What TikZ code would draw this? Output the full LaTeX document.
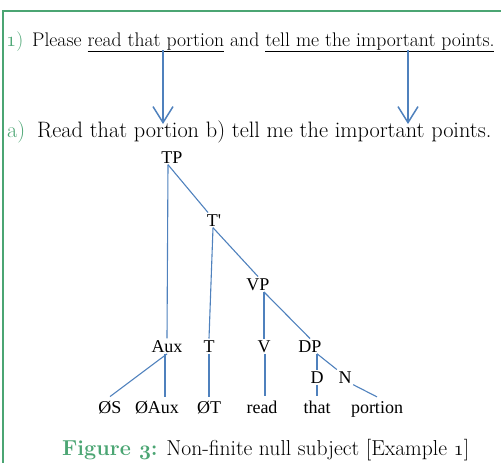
\documentclass[tikz,border=0pt]{standalone}
\usepackage{fontspec}
\newfontfamily\treefont{Liberation Serif}[Ligatures=TeXOff]
\usetikzlibrary{arrows.meta}
\definecolor{frameg}{RGB}{75,165,115}
\definecolor{lblue}{RGB}{79,129,189}
\newcommand\osm[1]{{\usefont{OML}{cmm}{m}{it}#1}}
\newcommand\osb[1]{{\usefont{OML}{cmm}{b}{it}#1}}
\begin{document}
\begin{tikzpicture}[x=1pt,y=-1pt,
  lbl/.style={font=\treefont\fontsize{18}{20}\selectfont, inner sep=1.5pt, anchor=base},
  leaf/.style={lbl, inner ysep=4pt},
  edge/.style={draw=lblue, line width=1.1pt},
  bigarrow/.style={draw=lblue, line width=1.5pt, -{Straight Barb[length=16pt,width=20pt]}},
  txt/.style={anchor=base west, inner sep=0pt}]
\useasboundingbox (0,0) rectangle (501,463);
\draw[frameg, line width=2pt] (501,11) -- (3,11) -- (3,463);
% sentence 1
\node[txt, text=frameg, font=\fontsize{19.7}{22}\selectfont] (n1) at (6,46) {\osm{1})};
\node[txt, font=\fontsize{19.7}{22}\selectfont] (s1) at (32,46) {Please \underline{read that portion} and \underline{tell me the important points.}};
% arrows
\coordinate (a1s) at (163,50);
\coordinate (a1e) at (163,124);
\coordinate (a2s) at (408,50);
\coordinate (a2e) at (408,124);
\draw[bigarrow] (a1s) -- (a1e);
\draw[bigarrow] (a2s) -- (a2e);
% sentence a
\node[txt, text=frameg, font=\fontsize{22.3}{24}\selectfont] (na) at (7,137) {a)};
\node[txt, font=\fontsize{22.3}{24}\selectfont] (sa) at (37,137) {Read that portion b) tell me the important points.};
% tree
\node[lbl] (TP) at (172,163) {TP};
\node[lbl] (Tb) at (214,226) {T'};
\node[lbl] (VP) at (258,290) {VP};
\node[lbl] (Aux) at (167,352) {Aux};
\node[lbl] (T) at (209,352) {T};
\node[lbl] (V) at (264,352) {V};
\node[lbl] (DP) at (310,352) {DP};
\node[lbl] (D) at (317,383) {D};
\node[lbl] (N) at (345,383) {N};
\node[leaf] (OS) at (110,413) {ØS};
\node[leaf] (OAux) at (157,413) {ØAux};
\node[leaf] (OT) at (209,413) {ØT};
\node[leaf] (read) at (262,413) {read};
\node[leaf] (that) at (317,413) {that};
\node[leaf] (portion) at (377,413) {portion};
\draw[edge] ([xshift=-4pt]TP.south) -- (Aux.north);
\draw[edge] ([xshift=-4pt]TP.south) -- ([xshift=-6pt]Tb.north);
\draw[edge] ([xshift=-1pt]Tb.south) -- (T.north);
\draw[edge] ([xshift=-1pt]Tb.south) -- (VP.north);
\draw[edge] (VP.south -| V.north) -- (V.north);
\draw[edge] (VP.south -| V.north) -- (DP.north);
\draw[edge] (Aux.south) -- (OS.north);
\draw[edge] ([xshift=-2pt]Aux.south) -- ([xshift=-2pt]Aux.south |- OAux.north);
\draw[edge] (T.south) -- (OT.north);
\draw[edge] ([xshift=1pt]V.south) -- ([xshift=1pt]V.south |- read.north);
\draw[edge] (D.north |- DP.south) -- (D.north);
\draw[edge] (D.north |- DP.south) -- (N.north west);
\draw[edge] (D.south) -- (that.north);
\draw[edge] (N.south east) -- (portion.north);
% caption
\node[txt, font=\fontsize{21.6}{24}\selectfont] (cap) at (62,455) {\textcolor{frameg}{\bfseries Figure \osb{3}:} Non-finite null subject [Example \osm{1}]};
\end{tikzpicture}
\end{document}
